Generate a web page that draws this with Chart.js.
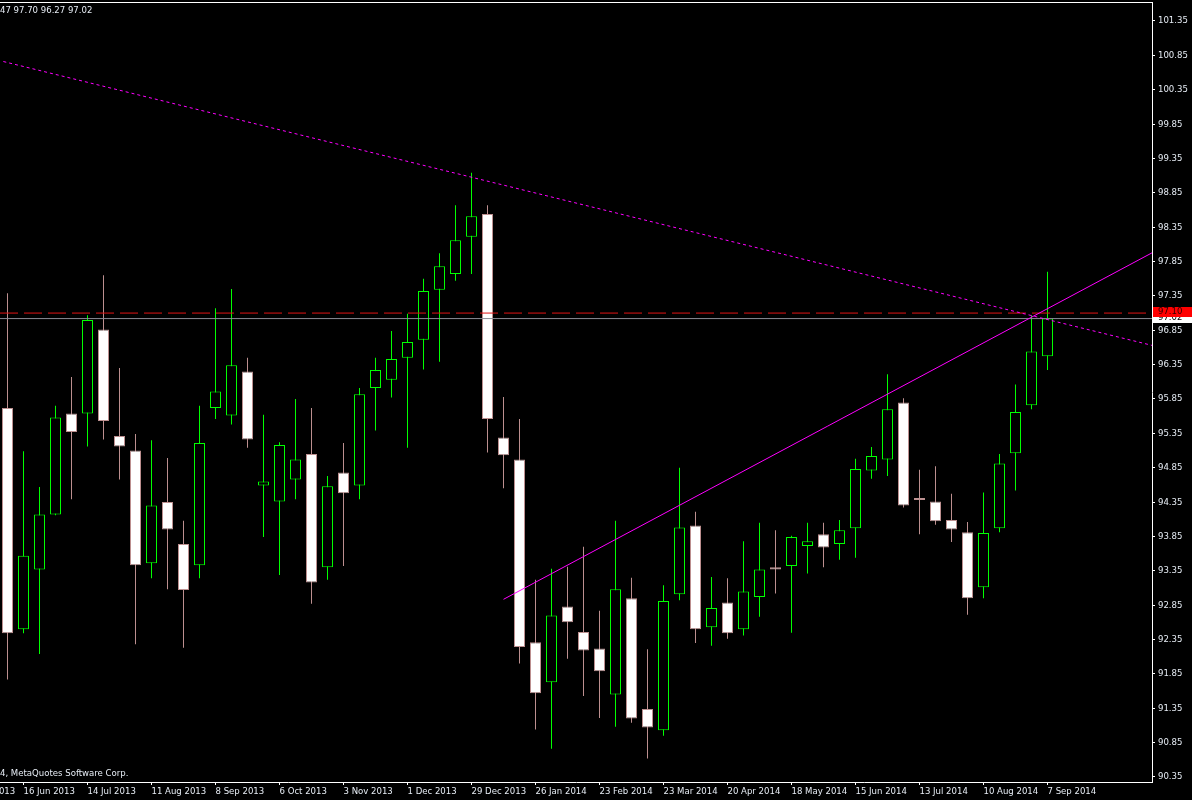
<!DOCTYPE html>
<html>
<head>
<meta charset="utf-8">
<script src="https://cdn.jsdelivr.net/npm/chart.js@4.4.0/dist/chart.umd.min.js"></script>
<style>
  html, body { margin: 0; padding: 0; background: #000; }
</style>
</head>
<body>
<canvas id="grafico" width="1192" height="800"></canvas>
<script>
// weekly candles, 9 Jun 2013 .. 7 Sep 2014
const weeks = [
  "9 Jun 2013", "16 Jun 2013", "23 Jun 2013", "30 Jun 2013", "7 Jul 2013", "14 Jul 2013", "21 Jul 2013", "28 Jul 2013",
  "4 Aug 2013", "11 Aug 2013", "18 Aug 2013", "25 Aug 2013", "1 Sep 2013", "8 Sep 2013", "15 Sep 2013", "22 Sep 2013",
  "29 Sep 2013", "6 Oct 2013", "13 Oct 2013", "20 Oct 2013", "27 Oct 2013", "3 Nov 2013", "10 Nov 2013", "17 Nov 2013",
  "24 Nov 2013", "1 Dec 2013", "8 Dec 2013", "15 Dec 2013", "22 Dec 2013", "29 Dec 2013", "5 Jan 2014", "12 Jan 2014",
  "19 Jan 2014", "26 Jan 2014", "2 Feb 2014", "9 Feb 2014", "16 Feb 2014", "23 Feb 2014", "2 Mar 2014", "9 Mar 2014",
  "16 Mar 2014", "23 Mar 2014", "30 Mar 2014", "6 Apr 2014", "13 Apr 2014", "20 Apr 2014", "27 Apr 2014", "4 May 2014",
  "11 May 2014", "18 May 2014", "25 May 2014", "1 Jun 2014", "8 Jun 2014", "15 Jun 2014", "22 Jun 2014", "29 Jun 2014",
  "6 Jul 2014", "13 Jul 2014", "20 Jul 2014", "27 Jul 2014", "3 Aug 2014", "10 Aug 2014", "17 Aug 2014", "24 Aug 2014",
  "31 Aug 2014", "7 Sep 2014"
];
const opens = [
  95.72, 92.50, 93.37, 94.17, 95.64, 95.64, 96.86, 95.31, 95.10, 93.46, 94.35, 93.74, 93.43, 95.72, 95.61, 96.25,
  94.59, 94.36, 94.68, 95.05, 93.40, 94.78, 94.59, 96.01, 96.13, 96.45, 96.71, 97.44, 97.67, 98.21, 98.54, 95.29,
  94.97, 92.31, 91.73, 92.83, 92.46, 92.22, 91.55, 92.95, 91.34, 91.03, 93.01, 94.01, 92.53, 92.89, 92.50, 92.97,
  93.40, 93.42, 93.71, 93.88, 93.74, 93.97, 94.81, 94.97, 95.80, 94.41, 94.36, 94.09, 93.91, 93.11, 93.97, 95.06,
  95.76, 96.47
];
const highs = [
  97.39, 95.09, 94.57, 95.75, 96.17, 97.07, 97.65, 96.30, 95.34, 95.25, 94.99, 94.08, 95.75, 97.17, 97.45, 96.45,
  95.62, 95.22, 95.85, 95.72, 94.73, 95.21, 96.01, 96.45, 96.84, 97.09, 97.60, 97.97, 98.67, 99.14, 98.67, 95.88,
  95.56, 93.22, 93.38, 93.41, 93.70, 92.77, 94.08, 93.25, 92.21, 93.14, 94.85, 94.21, 93.26, 93.24, 93.78, 94.05,
  93.94, 93.86, 94.05, 94.05, 94.09, 94.98, 95.15, 96.21, 95.86, 94.82, 94.87, 94.47, 94.06, 94.49, 95.05, 96.06,
  97.07, 97.70
];
const lows = [
  91.77, 92.44, 92.14, 94.16, 94.39, 95.16, 95.26, 94.68, 92.28, 93.24, 93.08, 92.23, 93.24, 95.56, 95.48, 95.14,
  93.84, 93.29, 94.39, 92.87, 93.22, 93.42, 94.39, 95.39, 95.87, 95.14, 96.28, 96.39, 97.57, 97.67, 95.07, 94.55,
  92.00, 91.04, 90.76, 92.07, 91.53, 91.21, 91.08, 91.14, 90.62, 90.95, 92.92, 92.30, 92.26, 92.36, 92.41, 92.68,
  93.02, 92.45, 93.31, 93.40, 93.51, 93.54, 94.69, 94.73, 94.27, 93.88, 94.02, 93.77, 92.71, 92.95, 93.91, 94.52,
  95.70, 96.27
];
const closes = [
  92.44, 93.57, 94.17, 95.58, 95.37, 97.00, 95.53, 95.16, 93.43, 94.30, 93.95, 93.07, 95.21, 95.96, 96.34, 95.26,
  94.65, 95.18, 94.97, 93.18, 94.58, 94.48, 95.92, 96.27, 96.43, 96.68, 97.42, 97.78, 98.16, 98.51, 95.56, 95.03,
  92.24, 91.57, 92.70, 92.60, 92.19, 91.89, 93.08, 91.20, 91.07, 92.91, 93.98, 92.50, 92.81, 92.44, 93.05, 93.37,
  93.37, 93.84, 93.78, 93.69, 93.94, 94.83, 95.02, 95.70, 94.30, 94.38, 94.07, 93.95, 92.95, 93.90, 94.91, 95.66,
  96.54, 97.02
];
const yTicks = [90.35, 90.85, 91.35, 91.85, 92.35, 92.85, 93.35, 93.85, 94.35, 94.85, 95.35, 95.85,
  96.35, 96.85, 97.35, 97.85, 98.35, 98.85, 99.35, 99.85, 100.35, 100.85, 101.35];
const earlyLabel = "19 May 2013";
const bid = 97.02;
const ask = 97.10;
const header = "96.47 97.70 96.27 97.02";
const copyright = "\u00a9 2001-2014, MetaQuotes Software Corp.";
// trend lines, x in candle index
const falling = [{x: -0.26, y: 100.76}, {x: 71.53, y: 96.63}];
const rising = [{x: 31, y: 92.935}, {x: 71.53, y: 97.976}];

const UP = "#00ff00";
const DOWN = "#bc8f8f";
const TEXT = "#e6ecf4";
const FONT_FAMILY = "'DejaVu Sans Condensed', 'Liberation Sans', sans-serif";
const FONT_SIZE = 9.5;
const X_MIN = -0.46875, X_MAX = 71.53125;

const isUp = closes.map((c, i) => c > opens[i]);
const wicks = highs.map((h, i) => ({x: i, y: [lows[i], h]}));
const bodies = opens.map((o, i) => ({x: i, y: [o, closes[i]]}));

const frame = {
    id: "frame",
    beforeDraw(chart) {
        const c = chart.ctx;
        c.save();
        c.fillStyle = "#000";
        c.fillRect(0, 0, chart.width, chart.height);
        c.restore();
    },
    afterDraw(chart) {
        const c = chart.ctx, a = chart.chartArea, ys = chart.scales.y;
        c.save();
        c.strokeStyle = "#fff";
        c.lineWidth = 1;
        c.beginPath();
        c.moveTo(0, a.top + 0.5);
        c.lineTo(a.right, a.top + 0.5);
        c.stroke();

        c.font = FONT_SIZE + "px " + FONT_FAMILY;
        c.textBaseline = "middle";
        c.textAlign = "left";
        c.fillStyle = TEXT;
        c.fillText(header, -c.measureText("96.").width, 11);
        c.fillText(copyright, -c.measureText("\u00a9 2001-201").width, 774);

        const label = (v, bg, fg) => {
            const py = Math.round(ys.getPixelForValue(v));
            c.fillStyle = bg;
            c.fillRect(a.right + 1, py - 6, 40, 10);
            c.fillStyle = fg;
            c.fillText(v.toFixed(2), a.right + 6, py - 1);
        };
        label(bid, "#ffffff", "#000000");
        label(ask, "#ff0000", "#300000");
        c.restore();
    }
};

const ctx = document.getElementById("grafico").getContext("2d");
const chart = new Chart(ctx, {
    type: "bar",
    data: {
        datasets: [
            {
                type: "line",
                data: falling,
                borderColor: "#ff00ff",
                borderWidth: 1,
                borderDash: [3, 3],
                pointRadius: 0,
                order: 0
            },
            {
                type: "line",
                data: rising,
                borderColor: "#ff00ff",
                borderWidth: 1,
                pointRadius: 0,
                order: 0
            },
            {
                type: "line",
                data: [{x: X_MIN, y: ask}, {x: X_MAX, y: ask}],
                borderColor: "#e01414",
                borderWidth: 1,
                borderDash: [18, 6],
                pointRadius: 0,
                order: 0
            },
            {
                type: "line",
                data: [{x: X_MIN, y: bid}, {x: X_MAX, y: bid}],
                borderColor: "#8a8a94",
                borderWidth: 1,
                pointRadius: 0,
                order: 0
            },
            {
                data: bodies,
                grouped: false,
                barThickness: 11,
                backgroundColor: isUp.map(u => u ? "#000000" : "#ffffff"),
                borderColor: isUp.map(u => u ? UP : DOWN),
                borderWidth: 1,
                borderSkipped: false,
                inflateAmount: 0,
                order: 1
            },
            {
                data: wicks,
                grouped: false,
                barThickness: 1,
                backgroundColor: isUp.map(u => u ? UP : DOWN),
                borderWidth: 0,
                inflateAmount: 0,
                order: 2
            }
        ]
    },
    options: {
        responsive: false,
        animation: false,
        layout: { padding: { top: 2, left: 0, right: 0, bottom: 0 } },
        plugins: { legend: { display: false }, tooltip: { enabled: false } },
        scales: {
            x: {
                type: "linear",
                min: X_MIN,
                max: X_MAX,
                offset: false,
                grid: { offset: false, drawOnChartArea: false, drawTicks: true, tickLength: 3, color: "#fff" },
                border: { display: true, color: "#fff" },
                afterBuildTicks: (scale) => {
                    const t = [{value: -3}];
                    for (let i = 1; i < weeks.length; i += 4) t.push({value: i});
                    scale.ticks = t;
                },
                afterFit: (scale) => {
                    scale.height = 18;
                    scale.paddingLeft = 0;
                    scale.paddingRight = 0;
                },
                ticks: {
                    autoSkip: false,
                    maxRotation: 0,
                    minRotation: 0,
                    align: "start",
                    padding: 1,
                    color: TEXT,
                    font: { family: FONT_FAMILY, size: FONT_SIZE },
                    callback: (v) => v < 0 ? earlyLabel : weeks[v]
                }
            },
            y: {
                position: "right",
                min: 90.277,
                max: 101.626,
                beginAtZero: false,
                grid: { drawOnChartArea: false, drawTicks: true, tickLength: 3, color: "#fff" },
                border: { display: true, color: "#fff" },
                afterBuildTicks: (scale) => {
                    scale.ticks = yTicks.map(v => ({value: v}));
                },
                afterFit: (scale) => {
                    scale.width = 40;
                    scale.paddingTop = 0;
                    scale.paddingBottom = 0;
                },
                ticks: {
                    padding: 3,
                    color: TEXT,
                    font: { family: FONT_FAMILY, size: FONT_SIZE },
                    callback: (v) => Number(v).toFixed(2)
                }
            }
        }
    },
    plugins: [frame]
});
</script>
</body>
</html>
